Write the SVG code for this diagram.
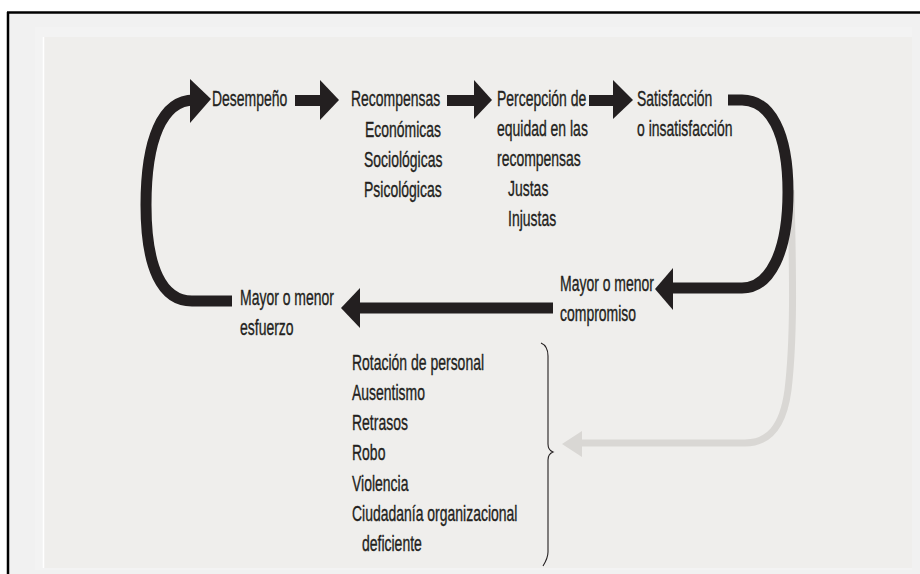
<svg xmlns="http://www.w3.org/2000/svg" width="920" height="574" viewBox="0 0 920 574">
  <style>
    .t { font-family: "Liberation Sans", Arial, sans-serif; font-size: 21.5px; fill: #231f20; stroke: #231f20; stroke-width: 0.35; }
    .arrow { fill: #231f20; }
    .bold { fill: none; stroke: #231f20; stroke-width: 11; }
    .soft { fill: none; stroke: #d9d7d4; stroke-width: 7; }
    .softhead { fill: #d9d7d4; }
    .brace { fill: none; stroke: #231f20; stroke-width: 1.1; }
  </style>

  <!-- page and frame -->
  <rect x="0" y="0" width="920" height="574" fill="#ffffff"/>
  <rect x="8" y="12" width="912" height="562" fill="#f1f1f1"/>
  <rect x="35" y="27" width="877" height="543" fill="#f3f3f3"/>
  <rect x="44" y="37" width="868" height="531" fill="#efeeec"/>
  <line x1="43.5" y1="37" x2="43.5" y2="568" stroke="#ffffff" stroke-width="1.5"/>
  <line x1="7" y1="12.5" x2="920" y2="12.5" stroke="#000000" stroke-width="2.5"/>
  <line x1="8" y1="12" x2="8" y2="574" stroke="#000000" stroke-width="2.5"/>

  <!-- connectors -->
  <g id="connectors">
    <!-- faint return path to the list of outcomes -->
    <path class="soft" d="M791,190 C793,280 794,340 788,390 C783,428 768,443 745,443 H580"/>
    <polygon class="softhead" points="562,444 582,431 582,457"/>

    <!-- Desempeño -> Recompensas -->
    <rect class="arrow" x="295" y="95" width="27" height="11"/>
    <polygon class="arrow" points="320,80 339,100 320,120"/>

    <!-- Recompensas -> Percepción -->
    <rect class="arrow" x="447" y="95" width="29" height="11"/>
    <polygon class="arrow" points="474,80 492,100 474,119"/>

    <!-- Percepción -> Satisfacción -->
    <rect class="arrow" x="589" y="95" width="26" height="11"/>
    <polygon class="arrow" points="613,80 633,100 613,119"/>

    <!-- Satisfacción -> Mayor o menor compromiso -->
    <path class="bold" d="M728,100 H742 C770,100 788,132 788,192 C788,252 770,288 742,288 H671"/>
    <polygon class="arrow" points="655,289 673,268 673,310"/>

    <!-- compromiso -> esfuerzo -->
    <path class="bold" d="M553,308 H357"/>
    <polygon class="arrow" points="341,308 360,288 360,328"/>

    <!-- esfuerzo -> Desempeño -->
    <path class="bold" d="M232,301 H192 C162,301 146,268 146,205 C146,140 162,100 194,100"/>
    <polygon class="arrow" points="190,79 211,99 190,123"/>

    <!-- brace grouping the outcomes -->
    <path class="brace" d="M541,343 Q548,346 548,356 V444 Q548,450 553,452 Q548,454 548,460 V552 Q548,558 543,566"/>
  </g>

  <g id="desempeno">
    <text class="t" transform="translate(212,106) scale(0.65,1)">Desempeño</text>
  </g>

  <g id="recompensas">
    <text class="t" transform="translate(351,106) scale(0.65,1)">Recompensas</text>
    <text class="t" transform="translate(365,137) scale(0.65,1)">Económicas</text>
    <text class="t" transform="translate(364,167) scale(0.65,1)">Sociológicas</text>
    <text class="t" transform="translate(364,197) scale(0.65,1)">Psicológicas</text>
  </g>

  <g id="percepcion">
    <text class="t" transform="translate(497,106) scale(0.65,1)">Percepción de</text>
    <text class="t" transform="translate(497,136) scale(0.65,1)">equidad en las</text>
    <text class="t" transform="translate(497,166) scale(0.65,1)">recompensas</text>
    <text class="t" transform="translate(508,196) scale(0.65,1)">Justas</text>
    <text class="t" transform="translate(508,226) scale(0.65,1)">Injustas</text>
  </g>

  <g id="satisfaccion">
    <text class="t" transform="translate(637,106) scale(0.65,1)">Satisfacción</text>
    <text class="t" transform="translate(637,136) scale(0.65,1)">o insatisfacción</text>
  </g>

  <g id="compromiso">
    <text class="t" transform="translate(560,291) scale(0.65,1)">Mayor o menor</text>
    <text class="t" transform="translate(560,321) scale(0.65,1)">compromiso</text>
  </g>

  <g id="esfuerzo">
    <text class="t" transform="translate(240,305) scale(0.65,1)">Mayor o menor</text>
    <text class="t" transform="translate(240,335) scale(0.65,1)">esfuerzo</text>
  </g>

  <g id="consecuencias">
    <text class="t" transform="translate(352,370) scale(0.65,1)">Rotación de personal</text>
    <text class="t" transform="translate(352,400) scale(0.65,1)">Ausentismo</text>
    <text class="t" transform="translate(352,430) scale(0.65,1)">Retrasos</text>
    <text class="t" transform="translate(352,460) scale(0.65,1)">Robo</text>
    <text class="t" transform="translate(352,491) scale(0.65,1)">Violencia</text>
    <text class="t" transform="translate(352,521) scale(0.65,1)">Ciudadanía organizacional</text>
    <text class="t" transform="translate(362,551) scale(0.65,1)">deficiente</text>
  </g>
</svg>
